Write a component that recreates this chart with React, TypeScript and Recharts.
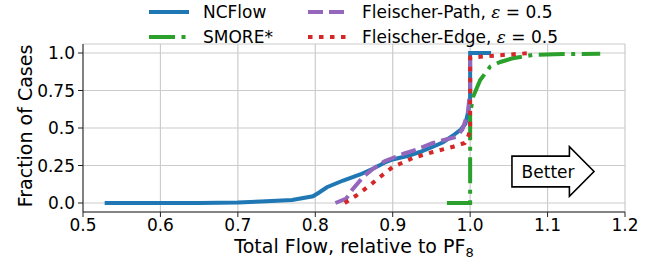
import React from "react"
import {
  LineChart,
  Line,
  XAxis,
  YAxis,
  CartesianGrid,
  Legend,
  ReferenceArea,
  Label,
} from "recharts"

// ─── Data ──────────────────────────────────────────────────────────────────────

const xTicks = [0.5, 0.6, 0.7, 0.8, 0.9, 1.0, 1.1, 1.2]
const yTicks = [0, 0.25, 0.5, 0.75, 1.0]

const ncflowX = [0.528, 0.65, 0.7, 0.73, 0.77, 0.797, 0.805, 0.815, 0.836, 0.858, 0.875, 0.89, 0.9, 0.92, 0.935, 0.952, 0.965, 0.978, 0.988, 0.994, 0.998, 1.0, 1.0, 1.027]
const ncflowY = [0, 0, 0.003, 0.01, 0.02, 0.045, 0.07, 0.105, 0.15, 0.19, 0.23, 0.27, 0.29, 0.315, 0.34, 0.375, 0.405, 0.45, 0.49, 0.53, 0.62, 0.7, 1.0, 1.0]

const smoreX = [0.97, 0.998, 1.0, 1.0, 1.004, 1.013, 1.026, 1.039, 1.055, 1.081, 1.12, 1.168]
const smoreY = [0, 0, 0, 0.6, 0.71, 0.82, 0.91, 0.94, 0.965, 0.987, 0.993, 0.995]

const pathX = [0.826, 0.84, 0.848, 0.862, 0.875, 0.89, 0.9, 0.915, 0.93, 0.952, 0.97, 0.982, 0.99, 0.997, 1.0, 1.0]
const pathY = [0, 0.03, 0.09, 0.175, 0.23, 0.28, 0.3, 0.33, 0.355, 0.4, 0.425, 0.44, 0.49, 0.6, 0.75, 1.0]

const edgeX = [0.838, 0.853, 0.871, 0.884, 0.9, 0.926, 0.952, 0.978, 0.993, 0.998, 1.0, 1.0, 1.013, 1.051, 1.079]
const edgeY = [0, 0.05, 0.12, 0.175, 0.24, 0.3, 0.34, 0.375, 0.4, 0.45, 0.5, 0.97, 0.975, 0.99, 1.0]

const toPoints = (xs: number[], ys: number[]) => xs.map((x, i) => ({ x, y: ys[i] }))

const series = [
  { name: "NCFlow", color: "#1f77b4", dash: undefined as string | undefined, points: toPoints(ncflowX, ncflowY) },
  { name: "SMORE*", color: "#2ca02c", dash: "26 6.5 4 6.5", points: toPoints(smoreX, smoreY) },
  { name: "Fleischer-Path, ε = 0.5", color: "#9467bd", dash: "15 6", points: toPoints(pathX, pathY) },
  { name: "Fleischer-Edge, ε = 0.5", color: "#d62728", dash: "4.5 6.5", points: toPoints(edgeX, edgeY) },
]

const FONT = "'DejaVu Sans', sans-serif"

// ─── Legend ────────────────────────────────────────────────────────────────────

const legendSlots = [
  { left: 148, top: 0 },
  { left: 148, top: 25 },
  { left: 307, top: 0 },
  { left: 307, top: 25 },
]

// epsilon is set in italics, like a math symbol
function LegendName({ text }: { text: string }) {
  const parts = text.split("ε")
  if (parts.length === 1) return <>{text}</>
  return (
    <>
      {parts[0]}
      <i style={{ fontFamily: "'DejaVu Serif', serif" }}>ε</i>
      {parts[1]}
    </>
  )
}

function ChartLegend() {
  return (
    <div style={{ position: "relative", width: 654, height: 50, fontFamily: FONT, fontSize: 17, color: "#000" }}>
      {series.map((s, i) => (
        <div
          key={s.name}
          style={{ position: "absolute", left: legendSlots[i].left, top: legendSlots[i].top, height: 24, display: "flex", alignItems: "center" }}
        >
          <svg width={42} height={8} style={{ display: "block" }}>
            <line x1={1} y1={4} x2={41} y2={4} stroke={s.color} strokeWidth={4.2} strokeDasharray={s.dash} />
          </svg>
          <span style={{ marginLeft: 13, whiteSpace: "nowrap" }}>
            <LegendName text={s.name} />
          </span>
        </div>
      ))}
    </div>
  )
}

// ─── "Better" arrow annotation ─────────────────────────────────────────────────

function BetterArrow(props: { x?: number; y?: number; width?: number; height?: number }) {
  const { x = 0, y = 0, width = 0, height = 0 } = props
  const bodyTop = y + height * 0.19
  const bodyBot = y + height * 0.81
  const headX = x + width * 0.7
  const midY = y + height / 2
  const pts = [
    [x, bodyTop], [headX, bodyTop], [headX, y], [x + width, midY],
    [headX, y + height], [headX, bodyBot], [x, bodyBot],
  ].map(p => p.join(",")).join(" ")
  return (
    <g>
      <polygon points={pts} fill="#fff" stroke="#000" strokeWidth={1.6} />
      <text x={x + width * 0.44} y={midY} textAnchor="middle" dominantBaseline="central" fontFamily={FONT} fontSize={17} fill="#000">
        Better
      </text>
    </g>
  )
}

// ─── Chart ─────────────────────────────────────────────────────────────────────

const yFmt = (v: number) => (Number.isInteger(Math.round(v * 1000) / 100) ? v.toFixed(1) : v.toFixed(2))

export default function App() {
  return (
    <div style={{ position: "fixed", left: 0, top: 0, width: 654, height: 263, background: "#fff" }}>
      <LineChart width={654} height={263} margin={{ top: 44, right: 29, left: 0, bottom: 0 }}>
        <CartesianGrid stroke="#cccccc" strokeWidth={1.2} />
        <XAxis
          type="number"
          dataKey="x"
          domain={[0.5, 1.2]}
          ticks={xTicks}
          allowDataOverflow
          tickFormatter={(v: number) => v.toFixed(1)}
          height={51}
          tickSize={5}
          tickMargin={2}
          stroke="#222"
          tick={{ fill: "#000", fontSize: 17, fontFamily: FONT }}
        >
          <Label
            content={({ viewBox }: any) => (
              <text x={viewBox.x + viewBox.width / 2} y={viewBox.y + 41} textAnchor="middle" fontFamily={FONT} fontSize={19} fill="#000">
                Total Flow, relative to PF<tspan fontSize={13} dy={4}>8</tspan>
              </text>
            )}
          />
        </XAxis>
        <YAxis
          type="number"
          domain={[-0.06, 1.06]}
          ticks={yTicks}
          allowDataOverflow
          tickFormatter={yFmt}
          width={83}
          tickSize={5}
          tickMargin={3}
          stroke="#222"
          tick={{ fill: "#000", fontSize: 17, fontFamily: FONT }}
        >
          <Label
            content={({ viewBox }: any) => {
              const cx = 25
              const cy = viewBox.y + viewBox.height / 2 - 2
              return (
                <text x={cx} y={cy} transform={`rotate(-90 ${cx} ${cy})`} textAnchor="middle" dominantBaseline="central" fontFamily={FONT} fontSize={19} fill="#000">
                  Fraction of Cases
                </text>
              )
            }}
          />
        </YAxis>
        <Legend
          layout="horizontal"
          verticalAlign="middle"
          align="center"
          wrapperStyle={{ top: 0, left: 0, width: 654 }}
          content={() => <ChartLegend />}
        />
        <ReferenceArea x1={1.054} x2={1.16} y1={0.045} y2={0.375} shape={(p: any) => <BetterArrow {...p} />} />
        {series.map(s => (
          <Line
            key={s.name}
            data={s.points}
            dataKey="y"
            name={s.name}
            type="linear"
            stroke={s.color}
            strokeWidth={4}
            strokeDasharray={s.dash}
            dot={false}
            activeDot={false}
            isAnimationActive={false}
          />
        ))}
      </LineChart>
    </div>
  )
}
